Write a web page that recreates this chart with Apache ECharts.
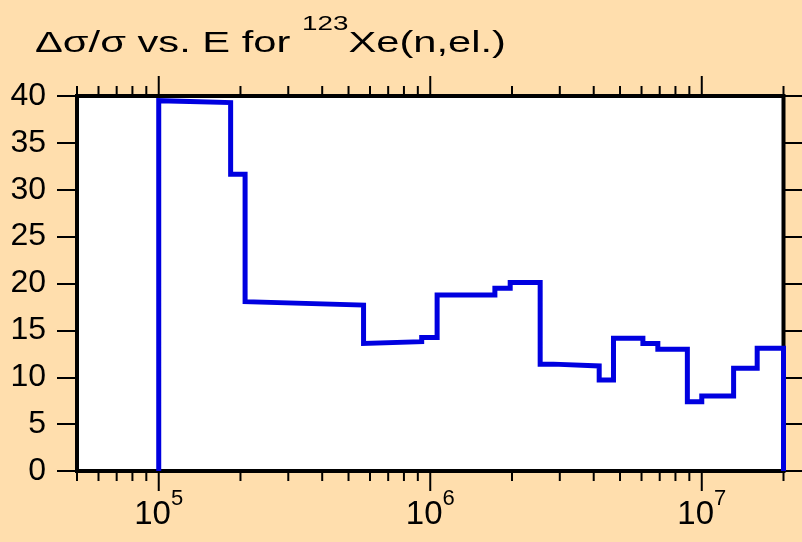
<!DOCTYPE html>
<html><head><meta charset="utf-8">
<script src="https://cdn.jsdelivr.net/npm/echarts@6/dist/echarts.min.js"></script>
<style>html,body{margin:0;padding:0;background:#FFDEAD}#c{width:802px;height:542px}</style>
</head><body><div id="c"></div>
<script>
// Bin edges (eV) and relative uncertainty (%) at start/end of each bin
const binEdges = [1e5, 1.84e5, 2.08e5, 5.68e5, 9.3e5, 1.06e6, 1.73e6, 1.97e6, 2.54e6, 2.84e6, 4.19e6, 4.73e6, 6.07e6, 6.89e6, 8.85e6, 1e7, 1.31e7, 1.6e7, 2e7];
const binStartValues = [39.5, 31.65, 18.06, 13.6, 14.25, 18.77, 19.5, 20.1, 11.4, 11.2, 9.7, 14.15, 13.6, 13.0, 7.4, 8.0, 10.95, 13.1];
const binEndValues   = [39.3, 31.65, 17.7, 13.8, 14.25, 18.77, 19.5, 20.1, 11.4, 11.2, 9.7, 14.15, 13.6, 13.0, 7.4, 8.0, 10.95, 13.1];
const xTickValues = [5e4,6e4,7e4,8e4,9e4,1e5,2e5,3e5,4e5,5e5,6e5,7e5,8e5,9e5,1e6,2e6,3e6,4e6,5e6,6e6,7e6,8e6,9e6,1e7,2e7];
const xMin = 5e4, xMax = 2e7, yMin = 0, yMax = 40, yInterval = 5;
const titleMain = 'Δσ/σ vs. E for ', titleSup = '123', titleTail = 'Xe(n,el.)';

const FONT = 'Liberation Sans';
const stepData = [[binEdges[0], 0]];
for (let i = 0; i < binStartValues.length; i++) {
  stepData.push([binEdges[i], binStartValues[i]]);
  stepData.push([binEdges[i + 1], binEndValues[i]]);
}
stepData.push([binEdges[binEdges.length - 1], 0]);

function isPow10(v) { const l = Math.log10(v); return Math.abs(l - Math.round(l)) < 1e-6; }

const chart = echarts.init(document.getElementById('c'), null, {renderer: 'canvas'});
chart.setOption({
  backgroundColor: '#FFDEAD',
  animation: false,
  graphic: [{
    type: 'text', x: 35, y: 14, scaleX: 1.39, silent: true,
    style: {
      text: '{n|' + titleMain + '}{s|' + titleSup + '}{n|' + titleTail + '}',
      align: 'left', verticalAlign: 'top', fill: '#000',
      rich: {
        n: {fontFamily: FONT, fontSize: 30, fill: '#000', lineHeight: 45, verticalAlign: 'bottom'},
        s: {fontFamily: FONT, fontSize: 20, fill: '#000', lineHeight: 20, verticalAlign: 'top'}
      }
    }
  }],
  grid: {left: 77, right: 18.5, top: 96, bottom: 71, show: true, backgroundColor: '#fff', borderColor: '#000', borderWidth: 4, containLabel: false},
  xAxis: {
    type: 'log', logBase: 10, min: xMin, max: xMax,
    axisLine: {show: false}, axisTick: {show: false}, splitLine: {show: false}, minorTick: {show: false},
    axisLabel: {
      margin: 17, showMinLabel: false, showMaxLabel: false,
      formatter: function (v) { return isPow10(v) ? '{b|10}{s|' + Math.round(Math.log10(v)) + '}' : ''; },
      rich: {
        b: {fontFamily: FONT, fontSize: 33, color: '#000', lineHeight: 43, verticalAlign: 'bottom'},
        s: {fontFamily: FONT, fontSize: 22, color: '#000', lineHeight: 22, verticalAlign: 'top'}
      }
    }
  },
  yAxis: [{
    type: 'value', min: yMin, max: yMax, interval: yInterval, position: 'left',
    axisLine: {show: false}, splitLine: {show: false},
    axisTick: {show: true, length: 20, lineStyle: {color: '#000', width: 2}},
    axisLabel: {margin: 31, fontFamily: FONT, fontSize: 32, color: '#000'}
  }, {
    type: 'value', min: yMin, max: yMax, interval: yInterval, position: 'right',
    axisLine: {show: false}, splitLine: {show: false},
    axisTick: {show: true, length: 20, lineStyle: {color: '#000', width: 2}},
    axisLabel: {show: false}
  }],
  series: [{
    type: 'custom', xAxisIndex: 0, yAxisIndex: 0, clip: false, silent: true, z: 5,
    data: xTickValues.map(v => [v, yMin]),
    encode: {x: 0, y: 1},
    renderItem: function (params, api) {
      const v = api.value(0);
      const b = api.coord([v, yMin]);
      const t = api.coord([v, yMax]);
      const len = isPow10(v) ? 20 : 10;
      return {type: 'group', children: [
        {type: 'line', shape: {x1: b[0], y1: b[1], x2: b[0], y2: b[1] + len}, style: {stroke: '#000', lineWidth: 2}},
        {type: 'line', shape: {x1: t[0], y1: t[1], x2: t[0], y2: t[1] - len}, style: {stroke: '#000', lineWidth: 2}}
      ]};
    }
  }, {
    type: 'line', xAxisIndex: 0, yAxisIndex: 0, data: stepData, showSymbol: false, clip: false, z: 10,
    lineStyle: {color: '#0000E0', width: 5, join: 'miter', cap: 'butt'}
  }]
});
</script></body></html>
